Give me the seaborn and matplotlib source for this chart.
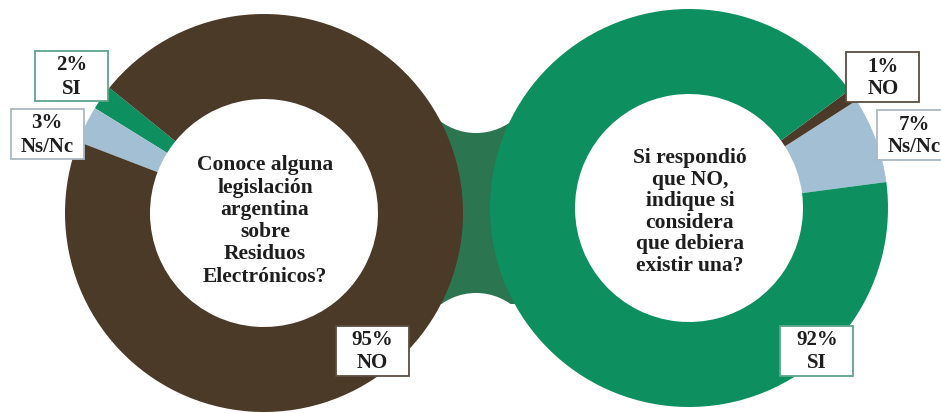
import matplotlib
matplotlib.use("Agg")
import matplotlib.pyplot as plt
from matplotlib.patches import Rectangle, Circle
import seaborn as sns

# ---------------- data ----------------
left_categories = ["SI", "Ns/Nc", "NO"]
left_values = [2, 3, 95]
right_categories = ["Ns/Nc", "NO", "SI"]
right_values = [7, 1, 92]
left_question = "Conoce alguna\nlegislación\nargentina\nsobre\nResiduos\nElectrónicos?"
right_question = "Si respondió\nque NO,\nindique si\nconsidera\nque debiera\nexistir una?"

# ---------------- style ----------------
sns.set_theme(style="white")
plt.rcParams['font.family'] = ['Liberation Serif', 'DejaVu Serif']

W, H = 941, 414
BROWN = "#4b3a27"
GREEN = "#0d8f5f"
BLUE = "#a3bfd4"
BRIDGE = "#2b7550"
color_map = {"SI": GREEN, "NO": BROWN, "Ns/Nc": BLUE}
edge_map = {"SI": "#5fa58a", "NO": "#5a4c40", "Ns/Nc": "#aab9c4"}

fig = plt.figure(figsize=(W / 100, H / 100), dpi=100)
ax = fig.add_axes([0, 0, 1, 1])

def Y(y_px):
    return H - y_px

R_OUT, R_IN = 199, 114
left_center = (264, Y(214))
right_center = (689, Y(209))

# bridge between the two donuts (hourglass neck)
ax.add_patch(Rectangle((420, Y(305)), 120, 190, facecolor=BRIDGE, edgecolor="none", zorder=1))
ax.add_patch(Circle((476, Y(74)), 60, facecolor="white", edgecolor="none", zorder=2))
ax.add_patch(Circle((476, Y(354)), 60, facecolor="white", edgecolor="none", zorder=2))

wp = dict(width=R_OUT - R_IN, edgecolor="none", linewidth=0)
wl, _ = ax.pie(left_values, colors=[color_map[c] for c in left_categories],
               startangle=141, counterclock=True, center=left_center,
               radius=R_OUT, wedgeprops=wp, frame=True)
wr, _ = ax.pie(right_values, colors=[color_map[c] for c in right_categories],
               startangle=7.5, counterclock=True, center=right_center,
               radius=R_OUT, wedgeprops=wp, frame=True)
for w in list(wl) + list(wr):
    w.set_zorder(3)

# center questions
ax.text(265, Y(221), left_question, ha="center", va="center", fontsize=15.5,
        fontweight="bold", color="#1e1e1e", linespacing=1.15, zorder=5)
ax.text(690, Y(212), right_question, ha="center", va="center", fontsize=15.5,
        fontweight="bold", color="#1e1e1e", linespacing=1.1, zorder=5)

# label boxes (layout positions in px)
label_pos = {
    ("L", "SI"): (71.5, 77),
    ("L", "Ns/Nc"): (47, 135),
    ("L", "NO"): (372, 352),
    ("R", "NO"): (883, 78),
    ("R", "Ns/Nc"): (914, 136),
    ("R", "SI"): (817, 352),
}
BW, BH = 73, 50
for side, cats, vals in (("L", left_categories, left_values), ("R", right_categories, right_values)):
    for c, v in zip(cats, vals):
        cx, cy = label_pos[(side, c)]
        ax.add_patch(Rectangle((cx - BW / 2, Y(cy + BH / 2)), BW, BH, facecolor="white",
                               edgecolor=edge_map[c], linewidth=1.3, zorder=6))
        ax.text(cx, Y(cy), f"{v}%\n{c}", ha="center", va="center", fontsize=15,
                fontweight="bold", color="#1e1e1e", linespacing=1.2, zorder=7)

ax.set_xlim(0, W)
ax.set_ylim(0, H)
ax.set_aspect("equal")
ax.axis("off")
fig.savefig("out.png", dpi=100, facecolor="white")
